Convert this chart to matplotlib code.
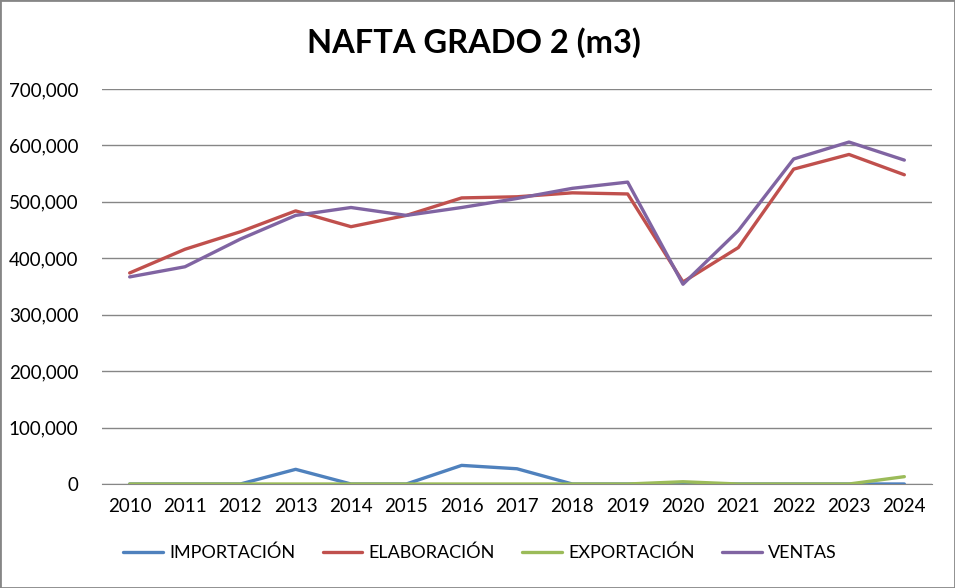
import numpy as np
import matplotlib.pyplot as plt
from matplotlib.ticker import FuncFormatter

years = [str(y) for y in range(2010, 2025)]

importacion = [0, 0, 0, 26000, 0, 0, 33000, 27000, 0, 0, 0, 0, 0, 0, 0]
elaboracion = [374000, 416000, 447000, 484000, 456000, 476000, 507000, 509000,
               516000, 514000, 358000, 419000, 558000, 584000, 548000]
exportacion = [0, 0, 0, 0, 0, 0, 0, 0, 0, 0, 4000, 0, 0, 0, 13000]
ventas = [367000, 385000, 434000, 476000, 490000, 476000, 490000, 506000,
          524000, 535000, 354000, 449000, 576000, 606000, 574000]

plt.rcParams['font.family'] = ['Lato', 'DejaVu Sans']

fig = plt.figure(figsize=(9.55, 5.88), dpi=100)
ax = fig.add_axes([102 / 955, 1 - 484 / 588, 830 / 955, 395 / 588])

x = np.arange(len(years))
series = [
    ('IMPORTACIÓN', importacion, '#4F81BD'),
    ('ELABORACIÓN', elaboracion, '#C0504D'),
    ('EXPORTACIÓN', exportacion, '#9BBB59'),
    ('VENTAS', ventas, '#8064A2'),
]
for name, vals, col in series:
    ax.plot(x, vals, color=col, linewidth=2.4, label=name, solid_capstyle='round', zorder=3)

ax.set_xlim(-0.5, len(years) - 0.5)
ax.set_ylim(0, 700000)
ax.set_yticks(np.arange(0, 700001, 100000))
ax.yaxis.set_major_formatter(FuncFormatter(lambda v, p: f'{int(v):,}'))
ax.set_xticks(x)
ax.set_xticklabels(years)
ax.grid(axis='y', color='#868686', linewidth=1)
ax.set_axisbelow(True)
for s in ['top', 'right', 'left']:
    ax.spines[s].set_visible(False)
ax.spines['bottom'].set_color('#868686')
ax.tick_params(axis='both', length=0, labelsize=13.5, colors='black')
ax.tick_params(axis='x', pad=10)
ax.tick_params(axis='y', pad=17)

fig.suptitle('NAFTA GRADO 2 (m3)', x=474 / 955, y=1 - 43 / 588, va='center',
             fontsize=23.5, fontweight='bold')

fig.legend(loc='center', bbox_to_anchor=(480 / 955, 1 - 553 / 588), ncol=4,
           frameon=False, fontsize=13, handlelength=2.2, columnspacing=1.5,
           handletextpad=0.35)

border = plt.Rectangle((0, 0), 1, 1, transform=fig.transFigure, fill=False,
                       edgecolor='#868686', linewidth=2)
fig.patches.append(border)

fig.savefig('out.png', dpi=100)
